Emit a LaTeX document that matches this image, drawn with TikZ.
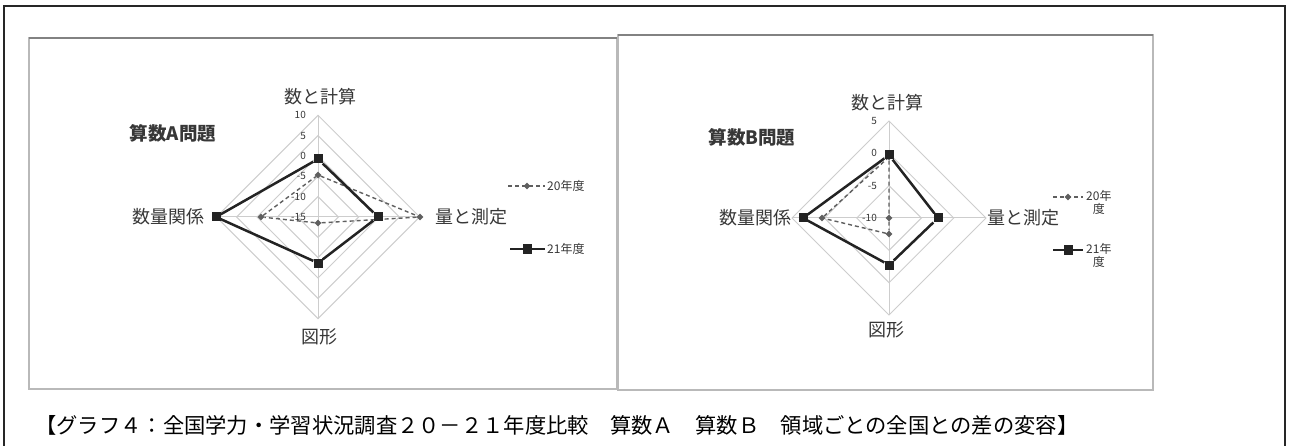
\documentclass[tikz,border=0pt]{standalone}
\usepackage{fontspec}
\setmainfont{Noto Sans CJK JP}
\usetikzlibrary{shapes.geometric}
\definecolor{gg}{RGB}{205,205,205}
\definecolor{bb}{RGB}{35,35,35}
\definecolor{dd}{RGB}{95,95,95}
\definecolor{tt}{RGB}{55,55,55}
\definecolor{pp}{RGB}{185,185,185}
\definecolor{pt}{RGB}{130,130,130}

\begin{document}
\begin{tikzpicture}[
  ring/.style={line width=1pt, color=gg},
  sq/.style={rectangle, minimum size=9pt, inner sep=0pt, fill=bb},
  dm/.style={diamond, minimum size=7pt, inner sep=0pt, fill=dd},
  s21/.style={line width=2.5pt, color=bb},
  s20/.style={line width=1.4pt, color=dd, dash pattern=on 4pt off 3pt},
  lab/.style={font=\fontsize{18}{18}\selectfont, color=tt, inner sep=0pt},
  ttl/.style={font=\bfseries\fontsize{18.5}{18.5}\selectfont, color=tt, inner sep=0pt},
  tk/.style={font=\fontsize{10}{10}\selectfont, color=tt, inner sep=0pt, anchor=east},
  leg/.style={font=\fontsize{12}{13}\selectfont, color=tt, inner sep=0pt}]
\useasboundingbox (0pt,0pt) rectangle (1289pt,-446pt);
% frame and panels
\draw [line width=2pt, color=black!85] (4pt,-470pt) -- (4pt,-6pt) -- (1285pt,-6pt) -- (1285pt,-470pt);
\draw [line width=1.5pt, color=pp] (29pt,-38pt) rectangle (617pt,-389pt);
\draw [line width=1.5pt, color=pt] (29pt,-38pt) -- (617pt,-38pt);
\draw [line width=1.5pt, color=pp] (618pt,-35pt) rectangle (1153pt,-390pt);
\draw [line width=1.5pt, color=pt] (618pt,-35pt) -- (1153pt,-35pt);

% chart A
\begin{scope}[shift={(318pt,-217pt)}]
\foreach \r in {20.3,40.7,61,81.4,101.7}
  \draw [ring] (\r pt,0pt) -- (0pt,\r pt) -- (-\r pt,0pt) -- (0pt,-\r pt) -- cycle;
\draw [ring] (-101.7pt,0pt) -- (101.7pt,0pt);
\draw [ring] (0pt,-101.7pt) -- (0pt,101.7pt);
\foreach \v/\r [count=\i] in {10/101.7,5/81.4,0/61,-5/40.7,-10/20.3,-15/0}
  \node [tk] (ta\i) at (-12pt,\r pt) {\v};
\node (5) [dm] at (0pt,42pt) {};
\node (6) [dm] at (102pt,0pt) {};
\node (7) [dm] at (0pt,-6pt) {};
\node (8) [dm] at (-57pt,0pt) {};
\draw [s20] (5) -- (6) -- (7) -- (8) -- (5);
\node (1) [sq] at (0pt,58pt) {};
\node (2) [sq] at (60pt,0pt) {};
\node (3) [sq] at (0pt,-46pt) {};
\node (4) [sq] at (-102pt,0pt) {};
\draw [s21] (1) -- (2) -- (3) -- (4) -- (1);
\end{scope}
\node (na1) [lab] at (320pt,-97pt) {数と計算};
\node (na2) [lab] at (471pt,-217pt) {量と測定};
\node (na3) [lab] at (319pt,-337pt) {図形};
\node (na4) [lab] at (168pt,-217pt) {数量関係};
\node (hA) [ttl] at (173pt,-133pt) {算数A問題};
% legend A
\coordinate (la1) at (508pt,-186pt);
\coordinate (la2) at (545pt,-186pt);
\draw [s20] (la1) -- (la2);
\node (la) [dm] at (527pt,-186pt) {};
\node (lta) [leg, anchor=west] at (547pt,-186pt) {20年度};
\coordinate (lb1) at (510pt,-249pt);
\coordinate (lb2) at (545pt,-249pt);
\draw [s21] (lb1) -- (lb2);
\node (lb) [sq] at (527pt,-249pt) {};
\node (ltb) [leg, anchor=west] at (547pt,-249pt) {21年度};

% chart B
\begin{scope}[shift={(889pt,-218pt)}]
\foreach \r in {32.3,64.7,97}
  \draw [ring] (\r pt,0pt) -- (0pt,\r pt) -- (-\r pt,0pt) -- (0pt,-\r pt) -- cycle;
\draw [ring] (-97pt,0pt) -- (97pt,0pt);
\draw [ring] (0pt,-97pt) -- (0pt,97pt);
\foreach \v/\r [count=\i] in {5/97,0/64.7,-5/32.3,-10/0}
  \node [tk] (tb\i) at (-12pt,\r pt) {\v};
\node (13) [dm] at (0pt,61pt) {};
\node (14) [dm] at (0pt,0pt) {};
\node (15) [dm] at (0pt,-16pt) {};
\node (16) [dm] at (-67pt,0pt) {};
\draw [s20] (13) -- (14) -- (15) -- (16) -- (13);
\node (9) [sq] at (0pt,63pt) {};
\node (10) [sq] at (49pt,0pt) {};
\node (11) [sq] at (0pt,-47pt) {};
\node (12) [sq] at (-86pt,0pt) {};
\draw [s21] (9) -- (10) -- (11) -- (12) -- (9);
\end{scope}
\node (nb1) [lab] at (887pt,-103pt) {数と計算};
\node (nb2) [lab] at (1023pt,-218pt) {量と測定};
\node (nb3) [lab] at (886pt,-330pt) {図形};
\node (nb4) [lab] at (755pt,-218pt) {数量関係};
\node (hB) [ttl] at (752pt,-137pt) {算数B問題};
% legend B
\coordinate (lc1) at (1053pt,-197pt);
\coordinate (lc2) at (1083pt,-197pt);
\draw [s20] (lc1) -- (lc2);
\node (lc) [dm] at (1068pt,-197pt) {};
\node (ltc) [leg, anchor=north west, align=center] at (1086pt,-190pt) {20年\\度};
\coordinate (ld1) at (1053pt,-250pt);
\coordinate (ld2) at (1083pt,-250pt);
\draw [s21] (ld1) -- (ld2);
\node (ld) [sq] at (1068pt,-250pt) {};
\node (ltd) [leg, anchor=north west, align=center] at (1086pt,-243pt) {21年\\度};

% caption
\node (cap) [anchor=west, inner sep=0pt, font=\fontsize{21.3}{21.3}\selectfont] at (35pt,-425pt) {【グラフ４：全国学力・学習状況調査２０－２１年度比較　算数Ａ　算数Ｂ　領域ごとの全国との差の変容】};
\end{tikzpicture}
\end{document}
